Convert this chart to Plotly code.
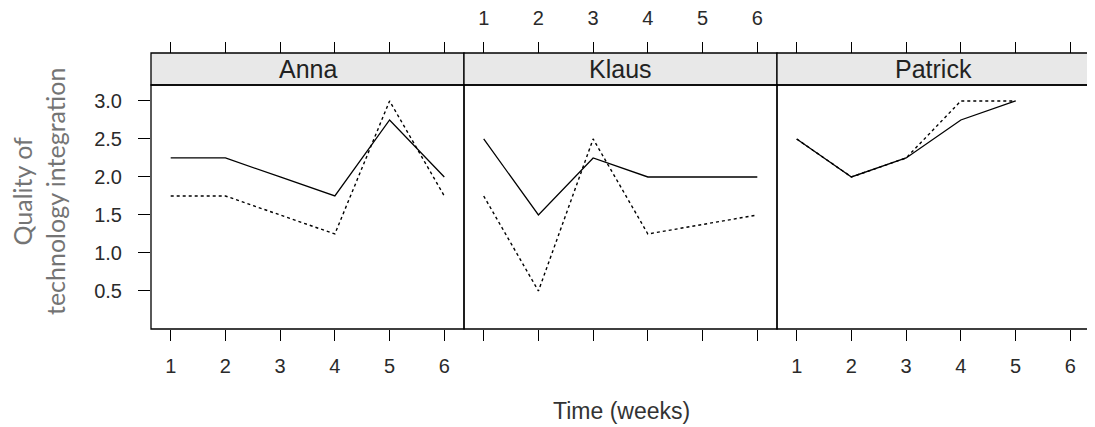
import plotly.graph_objects as go

weeks = [1, 2, 3, 4, 5, 6]
names = ["Anna", "Klaus", "Patrick"]

anna_solid = [2.25, 2.25, 2.0, 1.75, 2.75, 2.0]
anna_dotted = [1.75, 1.75, 1.5, 1.25, 3.0, 1.75]
klaus_solid = [2.5, 1.5, 2.25, 2.0, 2.0, 2.0]
klaus_dotted = [1.75, 0.5, 2.5, 1.25, None, 1.5]
patrick_solid = [2.5, 2.0, 2.25, 2.75, 3.0, None]
patrick_dotted = [2.5, 2.0, 2.25, 3.0, 3.0, None]

y_ticks = [0.5, 1.0, 1.5, 2.0, 2.5, 3.0]

# the page body has an 8px default margin: size the figure to fit the window
OFF = 8
W, H = 1095 - OFF, 427 - OFF
ML, MR, MT, MB = 151 - OFF, 5, 53 - OFF, 98
plot_h = H - MT - MB
plot_w = W - ML - MR
panel_h = 244
strip_h = 32
ydom_top = panel_h / plot_h

fig = go.Figure()
series = [(anna_solid, anna_dotted), (klaus_solid, klaus_dotted), (patrick_solid, patrick_dotted)]
for i, (s, d) in enumerate(series):
    xa = "x" if i == 0 else f"x{i+1}"
    ya = "y" if i == 0 else f"y{i+1}"
    fig.add_trace(go.Scatter(x=weeks, y=d, mode="lines", xaxis=xa, yaxis=ya,
                             line=dict(color="black", width=1.4, dash="dot"),
                             connectgaps=True, showlegend=False, hoverinfo="skip"))
    fig.add_trace(go.Scatter(x=weeks, y=s, mode="lines", xaxis=xa, yaxis=ya,
                             line=dict(color="black", width=1.3),
                             connectgaps=False, showlegend=False, hoverinfo="skip"))
    # invisible copy so the top (overlaying) axis is rendered
    fig.add_trace(go.Scatter(x=weeks, y=s, mode="lines", xaxis=f"x{i+4}", yaxis=ya,
                             line=dict(color="rgba(0,0,0,0)", width=0), opacity=0,
                             showlegend=False, hoverinfo="skip"))

xrange = [0.64, 6.36]
yrange = [0, 3.21]
tickfont = dict(family="Liberation Sans, Arial", size=20, color="#2a2a2a")

layout = dict(
    width=W, height=H,
    margin=dict(l=ML, r=MR, t=MT, b=MB, autoexpand=False),
    plot_bgcolor="white", paper_bgcolor="white",
    showlegend=False,
)
doms = [[0, 1/3], [1/3, 2/3], [2/3, 1]]
for i in range(3):
    k = "" if i == 0 else str(i + 1)
    layout[f"xaxis{k}"] = dict(
        domain=doms[i], range=xrange, anchor=f"y{k}", tickvals=weeks,
        ticks="outside", ticklen=11, tickcolor="black", tickwidth=1.2,
        showticklabels=(i != 1), tickfont=tickfont, showgrid=False,
        zeroline=False, showline=False, fixedrange=True, automargin=False,
        ticklabelstandoff=8,
    )
    yax = dict(domain=[0, ydom_top], range=yrange, anchor=f"x{k}",
               tickvals=y_ticks, ticktext=[f"{v:.1f}" for v in y_ticks],
               showgrid=False, zeroline=False, showline=False, fixedrange=True,
               tickfont=tickfont, tickcolor="black", tickwidth=1.2, ticklen=12,
               automargin=False)
    if i == 0:
        yax.update(ticks="outside", showticklabels=True, ticklabelstandoff=12)
    elif i == 1:
        yax.update(ticks="", showticklabels=False)
    else:
        yax.update(ticks="outside", showticklabels=False, side="right")
    layout[f"yaxis{k}"] = yax
    # top axes
    layout[f"xaxis{i+4}"] = dict(
        domain=doms[i], range=xrange, overlaying=f"x{k}", side="top",
        anchor="free", position=1, tickvals=weeks, ticks="outside",
        ticklen=11, tickcolor="black", tickwidth=1.2,
        showticklabels=(i == 1), tickfont=tickfont, showgrid=False,
        zeroline=False, showline=False, fixedrange=True, automargin=False,
        ticklabelstandoff=9,
    )

fig.update_layout(**layout)

shapes = []
annotations = []
for i in range(3):
    k = "" if i == 0 else str(i + 1)
    shapes.append(dict(type="rect", xref=f"x{k} domain", yref=f"y{k} domain",
                       x0=0, x1=1, y0=1, y1=1 + strip_h / panel_h,
                       fillcolor="#e8e8e8", line=dict(color="black", width=1.3), layer="below"))
    shapes.append(dict(type="rect", xref=f"x{k} domain", yref=f"y{k} domain",
                       x0=0, x1=1, y0=0, y1=1,
                       line=dict(color="black", width=1.3)))
    annotations.append(dict(text=names[i], xref=f"x{k} domain", yref=f"y{k} domain",
                            x=0.5, y=1 + (strip_h / 2) / panel_h, showarrow=False,
                            xanchor="center", yanchor="middle",
                            font=dict(family="Liberation Sans, Arial", size=25, color="#222222")))

annotations.append(dict(text="Time (weeks)", xref="paper", yref="paper",
                        x=(621 - OFF - ML) / plot_w, y=(H - MB - (411 - OFF)) / plot_h,
                        showarrow=False, xanchor="center", yanchor="middle",
                        font=dict(family="Liberation Sans, Arial", size=23, color="#333333")))
annotations.append(dict(text="Quality of<br>technology integration", xref="paper", yref="paper",
                        x=(38 - OFF - ML) / plot_w, y=(H - MB - (192 - OFF)) / plot_h,
                        showarrow=False, xanchor="center", yanchor="middle",
                        textangle=-90, align="center",
                        font=dict(family="Lato", size=25, color="#747474")))
fig.update_layout(shapes=shapes, annotations=annotations)

fig.write_html("out.html")
